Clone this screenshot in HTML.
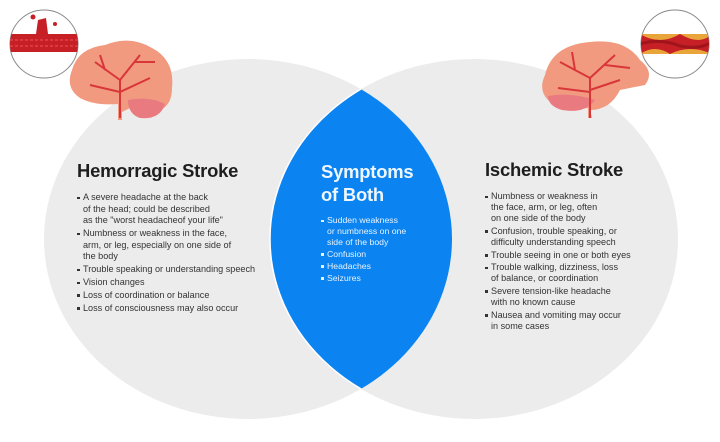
<!DOCTYPE html>
<html><head><meta charset="utf-8"><style>
html,body{margin:0;padding:0;background:#fff;}
body{width:720px;height:442px;position:relative;overflow:hidden;font-family:"Liberation Sans",sans-serif;}
svg{position:absolute;left:0;top:0;}
.t{position:absolute;color:#1e1e1e;}
h2{margin:0;font-size:18.4px;font-weight:bold;letter-spacing:-0.2px;}
ul{margin:0;padding:0;list-style:none;font-size:9.1px;line-height:11.2px;color:#333;}
li{padding-left:6px;position:relative;margin-bottom:1.3px;}
li:before{content:"";position:absolute;left:0;top:4.5px;width:2.5px;height:2.5px;background:#333;}
.w li:before{background:#e8f2ff;}
.w ul{color:#e8f2ff;}
</style></head><body>
<svg width="720" height="442" viewBox="0 0 720 442">
<defs>
<clipPath id="cl"><ellipse cx="248" cy="239" rx="204" ry="180"/></clipPath>
<clipPath id="c1"><circle cx="44" cy="44" r="34"/></clipPath>
<clipPath id="c2"><circle cx="675" cy="44" r="34"/></clipPath>
</defs>
<ellipse cx="248" cy="239" rx="204" ry="180" fill="#ececec"/>
<ellipse cx="474" cy="239" rx="204" ry="180" fill="#ececec"/>
<ellipse cx="474" cy="239" rx="204" ry="180" fill="#0b84f1" stroke="#fff" stroke-width="1.5" clip-path="url(#cl)"/>
<path d="M72 70 Q78 48 105 45 Q130 35 152 48 Q175 60 172 88 Q172 105 160 110 L130 108 L122 112 L122 120 L118 120 L118 104 Q95 106 80 98 Q65 88 72 70Z" fill="#f19a80"/>
<path d="M128 100 Q150 96 165 104 Q160 120 140 118 Q128 114 128 100Z" fill="#e97a80"/>
<path d="M120 118 L120 80 M120 80 L95 62 M120 80 L140 55 M120 92 L150 78 M120 92 L90 85 M105 70 L100 55 M135 62 L155 62" stroke="#d9363a" stroke-width="2" fill="none"/>
<circle cx="44" cy="44" r="34" fill="#fff" stroke="#888" stroke-width="1"/>
<g clip-path="url(#c1)">
<rect x="8" y="34" width="72" height="18" fill="#c61f26"/>
<path d="M36 34 L38 20 L46 18 L48 34Z" fill="#c61f26"/>
<circle cx="33" cy="17" r="2.5" fill="#c61f26"/><circle cx="55" cy="24" r="2" fill="#c61f26"/>
<path d="M10 40 H78 M10 46 H78" stroke="#e55" stroke-width="1" stroke-dasharray="3 2"/>
</g>
<path d="M545 75 Q552 45 590 42 Q625 38 640 60 Q655 72 645 85 Q630 88 620 90 Q610 110 590 110 L592 118 L588 118 L588 108 Q560 112 548 100 Q538 90 545 75Z" fill="#f19a80"/>
<path d="M548 96 Q570 92 595 100 Q585 114 562 110 Q548 106 548 96Z" fill="#e97a80"/>
<path d="M590 118 L590 78 M590 78 L560 62 M590 78 L615 55 M590 90 L620 80 M590 92 L558 88 M575 70 L572 52 M605 65 L630 68" stroke="#d9363a" stroke-width="2" fill="none"/>
<circle cx="675" cy="44" r="34" fill="#fff" stroke="#888" stroke-width="1"/>
<g clip-path="url(#c2)">
<rect x="640" y="34" width="72" height="20" fill="#c61f26"/>
<path d="M640 34 Q660 46 680 34 Q700 46 712 34Z M640 54 Q655 44 670 54 Q690 44 712 54Z" fill="#e9a43a"/>
<path d="M640 44 Q660 38 680 46 Q700 50 712 42" stroke="#a0151b" stroke-width="3" fill="none"/>
</g>
</svg>

<div class="t" style="left:77px;top:160px;width:220px;">
<h2>Hemorragic Stroke</h2>
<ul style="margin-top:10px;line-height:11.6px;">
<li>A severe headache at the back<br>of the head; could be described<br>as the "worst headacheof your life"</li>
<li>Numbness or weakness in the face,<br>arm, or leg, especially on one side of<br>the body</li>
<li>Trouble speaking or understanding speech</li>
<li>Vision changes</li>
<li>Loss of coordination or balance</li>
<li>Loss of consciousness may also occur</li>
</ul></div>

<div class="t w" style="left:321px;top:160px;width:125px;color:#fff;">
<h2 style="line-height:23px;color:#eef6ff;">Symptoms<br>of Both</h2>
<ul style="margin-top:9px;font-size:8.7px;line-height:10.8px;">
<li>Sudden weakness<br>or numbness on one<br>side of the body</li>
<li>Confusion</li>
<li>Headaches</li>
<li>Seizures</li>
</ul></div>

<div class="t" style="left:485px;top:159px;width:210px;">
<h2>Ischemic Stroke</h2>
<ul style="margin-top:10px;">
<li>Numbness or weakness in<br>the face, arm, or leg, often<br>on one side of the body</li>
<li>Confusion, trouble speaking, or<br>difficulty understanding speech</li>
<li>Trouble seeing in one or both eyes</li>
<li>Trouble walking, dizziness, loss<br>of balance, or coordination</li>
<li>Severe tension-like headache<br>with no known cause</li>
<li>Nausea and vomiting may occur<br>in some cases</li>
</ul></div>
</body></html>
